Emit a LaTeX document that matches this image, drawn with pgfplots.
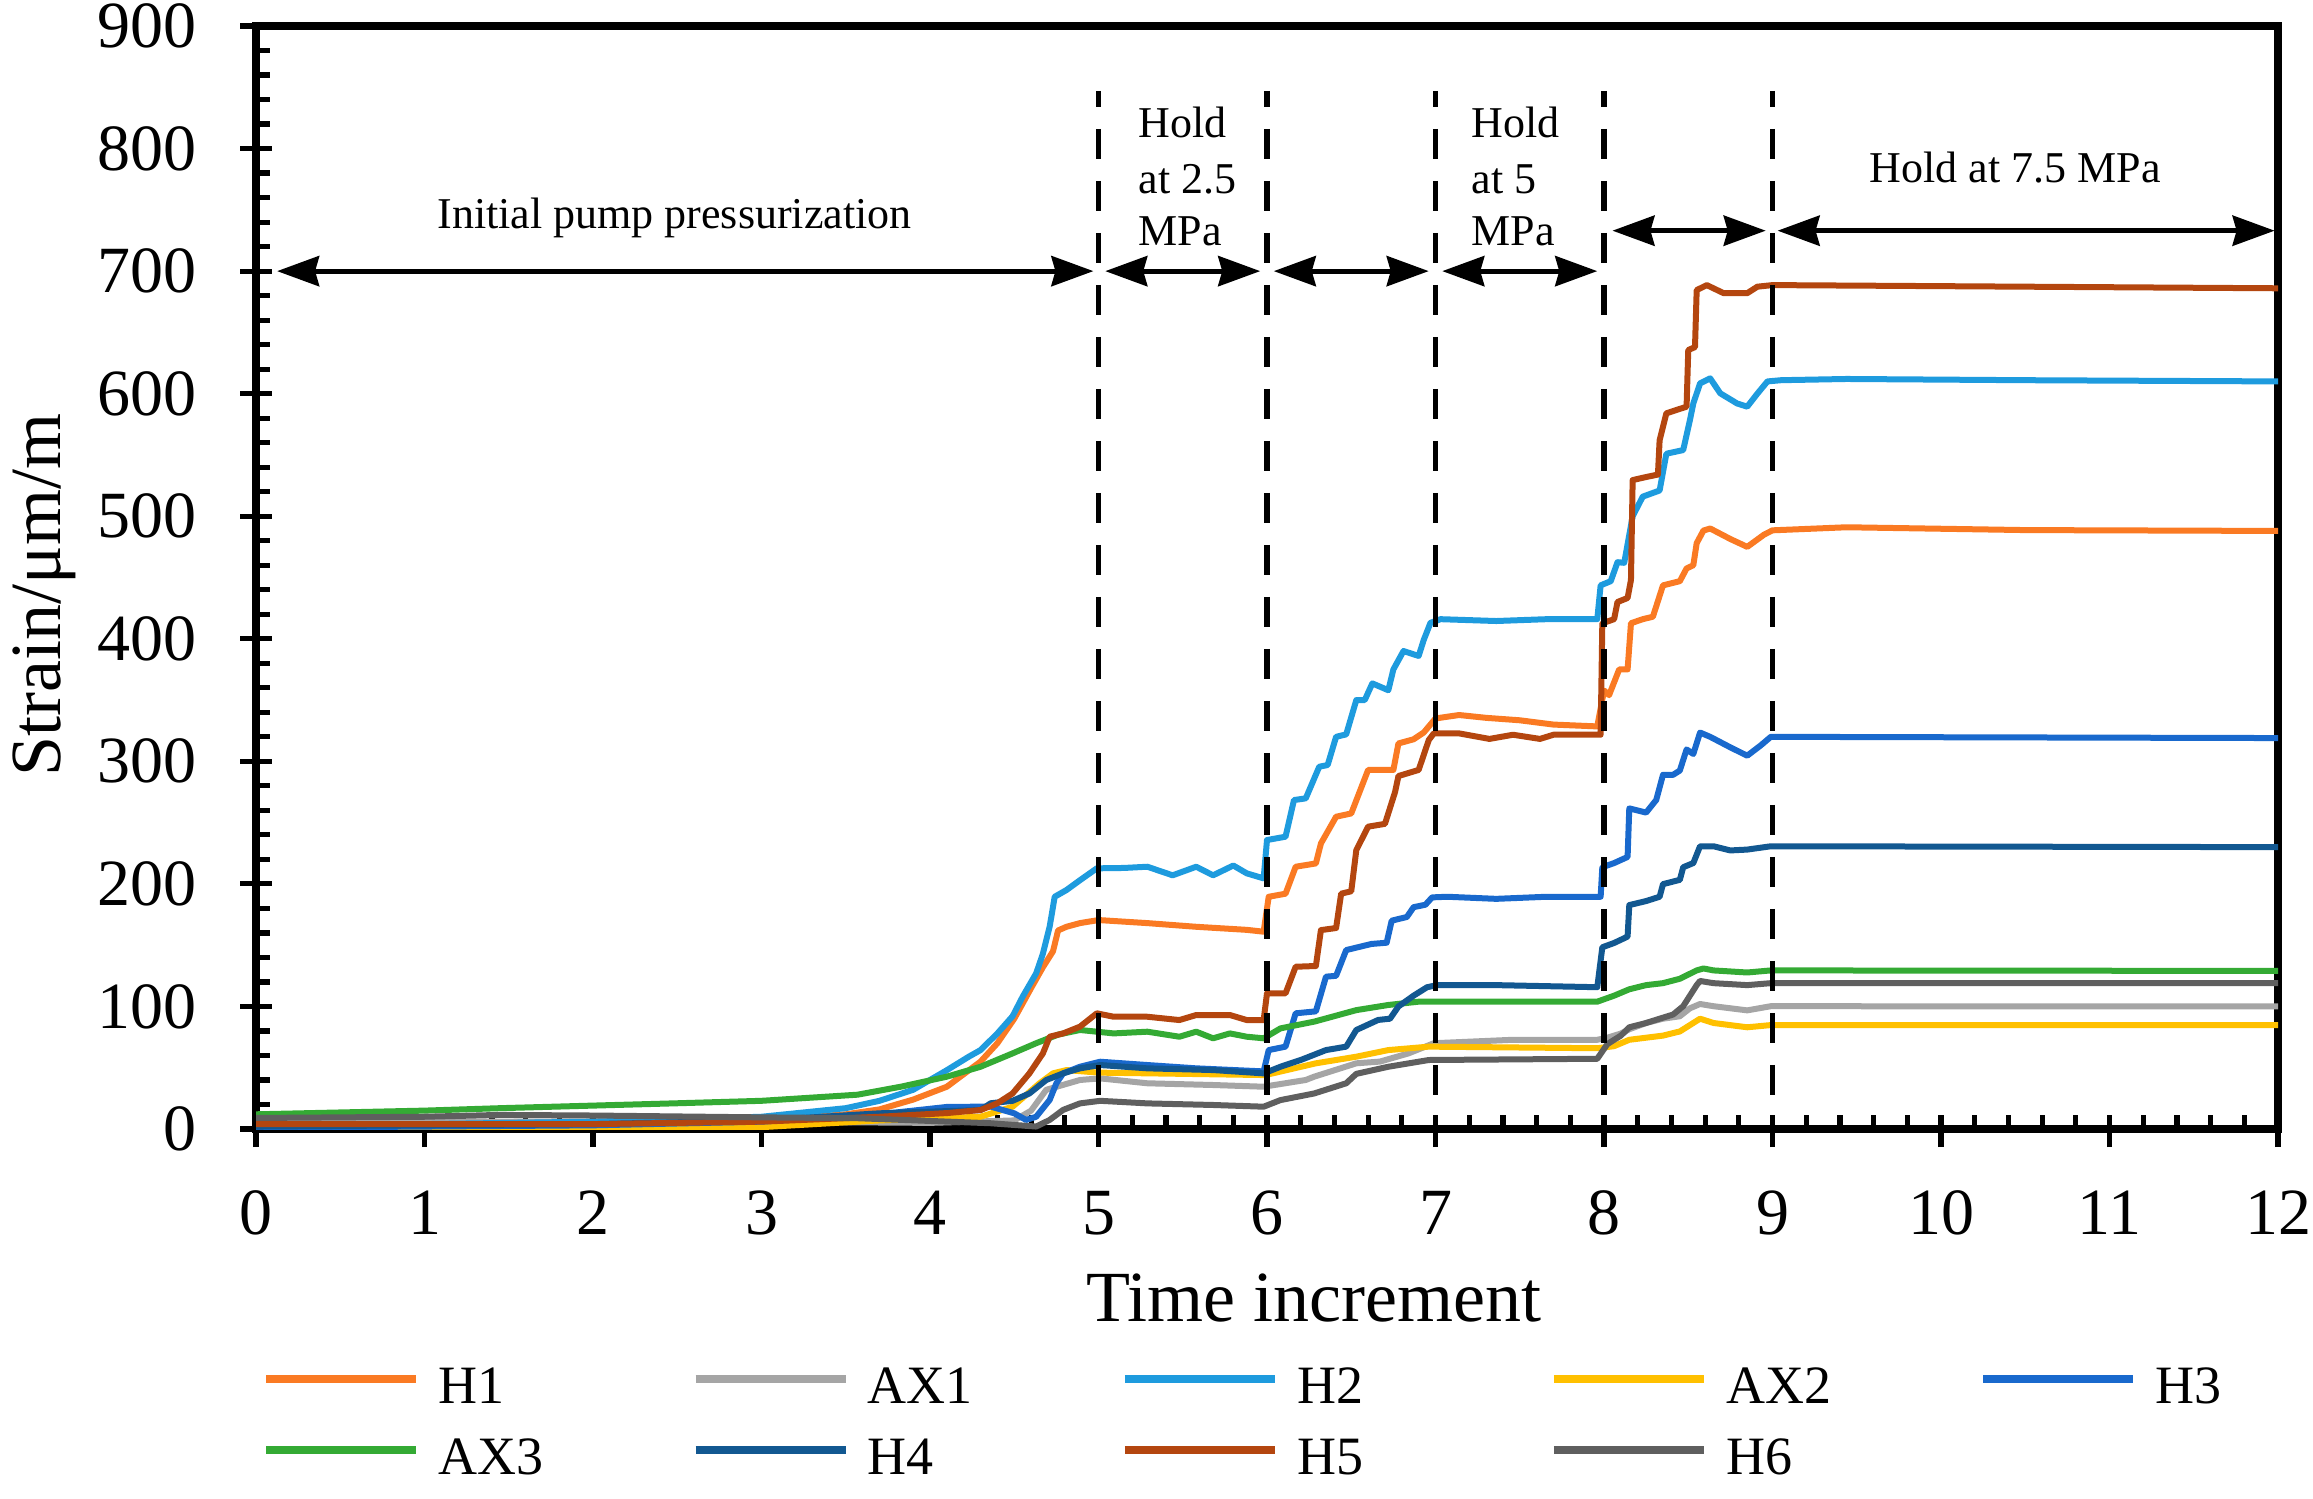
\documentclass[border=0pt]{standalone}
\usepackage{fontspec}
\setmainfont{Liberation Serif}
\usepackage{pgfplots}
\pgfplotsset{compat=1.18}
\usetikzlibrary{arrows.meta}
\definecolor{cH1}{RGB}{250,122,35}
\definecolor{cAX1}{RGB}{165,165,165}
\definecolor{cH2}{RGB}{30,155,222}
\definecolor{cAX2}{RGB}{255,192,0}
\definecolor{cH3}{RGB}{25,105,205}
\definecolor{cAX3}{RGB}{52,170,52}
\definecolor{cH4}{RGB}{18,88,145}
\definecolor{cH5}{RGB}{180,70,15}
\definecolor{cH6}{RGB}{95,95,95}
\tikzset{
  dar/.style={line width=1.3pt,{Stealth[length=10.5pt,width=7.5pt,inset=1pt]}-{Stealth[length=10.5pt,width=7.5pt,inset=1pt]}},
  vdash/.style={line width=1.4pt,dash pattern=on 7.5pt off 5.5pt,dash phase=3.5pt},
  anno/.style={font=\fontsize{11}{13.2}\selectfont,inner sep=0pt}
}
\begin{document}
\begin{tikzpicture}
\begin{axis}[
  at={(0,0)}, anchor=south west,
  scale only axis, width=505.5pt, height=275.75pt,
  xmin=0, xmax=12, ymin=0, ymax=900,
  xtick={0,1,...,12}, ytick={0,100,...,900},
  minor x tick num=4, minor y tick num=4,
  tick pos=left,
  tick align=inside,
  major tick length=8pt, minor tick length=3.5pt,
  major x tick style={yshift=-4.5pt},
  major y tick style={xshift=-4pt},
  every tick/.append style={black, line width=1.3pt},
  axis line style={line width=1.8pt},
  /pgf/number format/assume math mode=true,
  ticklabel style={font=\fontsize{16.5}{19.8}\selectfont, inner sep=0pt},
  xticklabel style={anchor=north, yshift=-15.25pt},
  yticklabel style={anchor=east, xshift=-14.75pt},
  legend columns=5,
  legend cell align=left,
  legend style={at={(axis description cs:0,0)}, anchor=north west, xshift=1.5pt, yshift=-57.3pt,
    draw=none, fill=none, inner sep=0pt, outer sep=0pt, row sep=4.9pt, column sep=0pt,
    font=\fontsize{13.5}{16.2}\selectfont, nodes={inner sep=0pt},
    /tikz/every odd column/.append style={column sep=4.5pt}},
  legend image code/.code={\draw[#1, line width=2.2pt] (0pt,1.2pt) -- (37.5pt,1.2pt);},
  every axis plot/.append style={line width=1.5pt, line join=round, mark=none},
]
\addplot[color=cH1] coordinates {(0,2) (1,3) (2,4) (3,7) (3.5,12) (3.7,16) (3.9,24) (4.1,34.5) (4.3,55) (4.4,70) (4.5,90) (4.6,115) (4.67,132) (4.73,145) (4.76,162) (4.81,165) (4.89,168) (5.0,170.5) (5.29,168) (5.58,165) (5.88,162.5) (5.98,161) (6.01,189.5) (6.11,192) (6.17,214) (6.29,216.7) (6.32,233) (6.41,254.8) (6.50,257.5) (6.60,293) (6.75,293) (6.78,314.6) (6.87,318) (6.93,323.5) (7.0,335) (7.14,337.8) (7.3,335.5) (7.5,333.5) (7.7,330) (7.96,328.5) (8.0,357.8) (8.03,354) (8.09,375) (8.14,375) (8.16,412.7) (8.23,416) (8.29,418) (8.31,426.5) (8.35,443.6) (8.45,447) (8.49,457.4) (8.53,460) (8.55,478) (8.59,488.3) (8.63,490) (8.75,481.4) (8.85,475) (8.95,485) (9.0,488.5) (9.44,491) (10.5,488.7) (12,488)};
\addlegendentry{\makebox[63.1pt][l]{\strut H1}}
\addplot[color=cAX1] coordinates {(0,5) (1,6) (2,6) (3,6) (4,5) (4.5,7) (4.6,15) (4.69,32) (4.89,40) (5.01,41.3) (5.29,37.3) (5.68,35.9) (5.98,34.5) (6.23,40) (6.28,42.7) (6.53,53.6) (6.67,55) (6.84,61.7) (6.99,70) (7.46,72.8) (7.96,72.8) (8.02,74.5) (8.10,77.9) (8.15,81.4) (8.25,86.5) (8.35,90) (8.45,92) (8.51,98.5) (8.57,102) (8.65,100.2) (8.85,96.8) (8.99,100.2) (12,100)};
\addlegendentry{\makebox[63.1pt][l]{\strut AX1}}
\addplot[color=cH2] coordinates {(0,3) (1,4) (2,6) (3,10) (3.5,17) (3.7,23) (3.9,32) (4.1,48) (4.23,59) (4.3,64.4) (4.4,78) (4.49,92) (4.55,108) (4.63,127) (4.67,143) (4.71,165) (4.74,189.5) (4.81,195) (4.89,203) (4.99,212.7) (5.15,213) (5.29,214) (5.44,207) (5.58,214) (5.68,207) (5.80,215) (5.88,208.6) (5.98,204.5) (6.0,235.8) (6.11,238.5) (6.16,268.4) (6.23,269.8) (6.31,295.6) (6.36,297) (6.41,320) (6.47,322) (6.53,350) (6.58,350) (6.625,363.6) (6.72,358) (6.75,375) (6.81,390) (6.90,386) (6.93,399) (6.97,413) (7.03,416) (7.36,414.5) (7.66,416) (7.96,416) (7.98,443.6) (8.04,447) (8.08,462.5) (8.12,462) (8.17,500) (8.23,516) (8.33,521) (8.37,551) (8.47,554) (8.51,578.5) (8.53,592) (8.57,608.4) (8.63,612.5) (8.69,600.3) (8.79,592) (8.85,589.4) (8.91,600) (8.97,610) (9.05,611) (9.44,612) (10.5,611) (12,610)};
\addlegendentry{\makebox[63.1pt][l]{\strut H2}}
\addplot[color=cAX2] coordinates {(0,0.5) (2,1) (3,1.5) (3.7,7) (4.3,10) (4.49,18.2) (4.65,37.3) (4.73,45.4) (4.81,48.1) (5.0,46) (5.5,45) (5.99,44) (6.29,53.6) (6.53,59) (6.72,64.4) (6.96,67.2) (7.96,65.9) (8.06,67.6) (8.15,72.8) (8.35,76.2) (8.45,79.6) (8.57,90) (8.65,86.5) (8.85,83) (8.99,84.8) (12,84.8)};
\addlegendentry{\makebox[63.1pt][l]{\strut AX2}}
\addplot[color=cH3] coordinates {(0,1) (1,2) (2,3) (3,6) (3.7,12) (4.1,18) (4.36,18.3) (4.5,12.8) (4.57,7.4) (4.63,10) (4.71,23.7) (4.75,37.3) (4.79,45.4) (4.89,50.8) (5.01,54.9) (5.29,52.2) (5.58,49.5) (5.98,47) (6.01,64.4) (6.11,67.2) (6.17,94.4) (6.29,96) (6.35,124.3) (6.41,125) (6.47,146) (6.62,151) (6.71,152) (6.74,170) (6.83,173) (6.87,181) (6.94,183) (6.98,189) (7.07,189.5) (7.36,187.8) (7.66,189.5) (7.98,189.5) (7.99,213.6) (8.06,217) (8.14,222) (8.15,261.6) (8.25,258.2) (8.31,268.5) (8.35,289) (8.41,289) (8.45,292.5) (8.49,309.7) (8.53,306) (8.57,323.5) (8.63,320) (8.75,311.4) (8.85,304.6) (8.93,313) (8.99,320) (12,319)};
\addlegendentry{\makebox[63.1pt][l]{\strut H3}}
\addplot[color=cAX3] coordinates {(0,12) (1,15) (1.45,17) (2.5,21) (3,23) (3.57,28) (3.83,34.6) (4.10,42.7) (4.30,50.8) (4.49,61.7) (4.63,70) (4.76,77) (4.89,80.8) (5.09,78) (5.29,79.4) (5.48,75.3) (5.58,79.4) (5.68,74) (5.78,78) (5.88,75.3) (5.98,74) (6.08,82.1) (6.28,87.6) (6.53,97) (6.72,101.2) (6.90,103.9) (7.96,103.9) (8.06,108.8) (8.15,114) (8.25,117.4) (8.35,119) (8.45,122.6) (8.55,129.4) (8.59,131) (8.65,129.4) (8.85,127.7) (8.99,129.4) (12,129)};
\addlegendentry{\makebox[63.1pt][l]{\strut AX3}}
\addplot[color=cH4] coordinates {(0,2) (1,3) (2,4) (3,7) (3.7,12.8) (4.3,15.5) (4.36,21) (4.49,23) (4.59,29) (4.69,40) (4.79,45.4) (4.89,49.5) (5.01,52.2) (5.29,49.5) (5.68,48.1) (5.98,45.4) (6.08,50.8) (6.20,56.3) (6.35,64.4) (6.47,67.2) (6.53,80.8) (6.66,89) (6.73,90) (6.78,100) (6.87,108.8) (6.95,115.7) (7.01,117.4) (7.36,117.4) (7.96,115.7) (7.99,148.3) (8.06,151.8) (8.14,157) (8.15,182.7) (8.25,186) (8.33,189.5) (8.35,199.8) (8.45,203.3) (8.47,213.6) (8.53,217) (8.57,230.7) (8.65,230.7) (8.75,227.3) (8.85,228) (8.99,230.7) (12,230)};
\addlegendentry{\makebox[63.1pt][l]{\strut H4}}
\addplot[color=cH5] coordinates {(0,4) (1,4) (2,4) (3,6) (3.7,10) (4.1,13) (4.3,15.5) (4.4,21) (4.49,29) (4.59,45.4) (4.67,61.7) (4.71,75.3) (4.79,78) (4.89,83.5) (4.99,94.4) (5.09,91.6) (5.29,91.6) (5.48,88.9) (5.58,93) (5.78,93) (5.88,88.9) (5.98,88.9) (6.0,110.7) (6.11,110.7) (6.17,132.4) (6.29,133) (6.32,162.3) (6.41,164) (6.44,192) (6.50,194) (6.53,227.6) (6.60,246.7) (6.70,249) (6.76,275) (6.78,288) (6.90,293) (6.96,317.4) (6.99,322.8) (7.14,322.8) (7.32,318.3) (7.46,321.7) (7.62,318.3) (7.70,321.7) (7.98,321.7) (7.99,412.7) (8.06,416) (8.08,430) (8.14,433.3) (8.16,448) (8.17,529.5) (8.25,532) (8.32,534) (8.33,562) (8.37,584) (8.49,589.4) (8.50,635.6) (8.54,638) (8.55,684.5) (8.61,688.6) (8.71,682) (8.85,682) (8.91,687.3) (9.0,688.6) (12,686)};
\addlegendentry{\makebox[63.1pt][l]{\strut H5}}
\addplot[color=cH6] coordinates {(0,9) (1,10) (1.45,11.5) (2,11) (3,9.5) (3.57,8.8) (4.36,4.7) (4.63,2) (4.71,7.4) (4.79,15.6) (4.89,20.9) (5.01,23) (5.29,20.9) (5.68,19.6) (5.98,18.2) (6.08,23.6) (6.28,29) (6.47,37.3) (6.53,45) (6.72,50.8) (6.96,56.3) (7.96,57.3) (8.02,69.3) (8.10,76.2) (8.15,83) (8.25,86.5) (8.33,90) (8.41,93.4) (8.47,100.2) (8.51,108.8) (8.55,117.4) (8.57,120.8) (8.65,119) (8.85,117.4) (8.99,119) (12,119)};
\addlegendentry{\makebox[63.1pt][l]{\strut H6}}
% phase boundaries
\draw[vdash] (axis cs:5,847) -- (axis cs:5,0);
\draw[vdash] (axis cs:6,847) -- (axis cs:6,0);
\draw[vdash] (axis cs:7,847) -- (axis cs:7,0);
\draw[vdash] (axis cs:8,847) -- (axis cs:8,0);
\draw[vdash] (axis cs:9,847) -- (axis cs:9,0);
% arrows
\draw[dar] (axis cs:0.125,700) -- (axis cs:4.97,700);
\draw[dar] (axis cs:5.04,700) -- (axis cs:5.96,700);
\draw[dar] (axis cs:6.04,700) -- (axis cs:6.96,700);
\draw[dar] (axis cs:7.04,700) -- (axis cs:7.96,700);
\draw[dar] (axis cs:8.05,733) -- (axis cs:8.96,733);
\draw[dar] (axis cs:9.03,733) -- (axis cs:11.98,733);
% annotations
\node[anno, anchor=base] at (axis cs:2.484,735) {Initial pump pressurization};
\node[anno, anchor=base west] at (axis cs:5.234,809.4) {Hold};
\node[anno, anchor=base west] at (axis cs:5.234,763.7) {at 2.5};
\node[anno, anchor=base west] at (axis cs:5.234,721.3) {MPa};
\node[anno, anchor=base west] at (axis cs:7.21,809.4) {Hold};
\node[anno, anchor=base west] at (axis cs:7.21,763.7) {at 5};
\node[anno, anchor=base west] at (axis cs:7.21,721.3) {MPa};
\node[anno, anchor=base] at (axis cs:10.44,772.7) {Hold at 7.5 MPa};
\end{axis}
\node[rotate=90, anchor=base, inner sep=0pt, font=\fontsize{18}{21.6}\selectfont] at (-49pt,133.5pt) {Strain/μm/m};
\node[anchor=base, inner sep=0pt, font=\fontsize{18}{21.6}\selectfont] at (264.5pt,-48pt) {Time increment};
\pgfresetboundingbox
\path[use as bounding box] (-64pt,-92.5pt) rectangle (514.25pt,282.25pt);
\end{tikzpicture}
\end{document}
